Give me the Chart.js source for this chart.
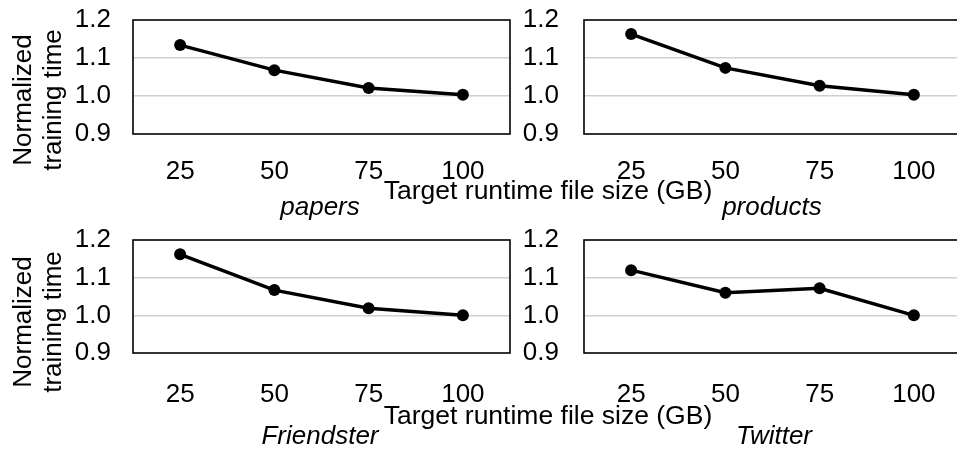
<!DOCTYPE html>
<html>
<head>
<meta charset="utf-8">
<script src="https://cdn.jsdelivr.net/npm/chart.js@4.4.1/dist/chart.umd.min.js"></script>
<style>
 body { margin: 0; width: 957px; height: 452px; overflow: hidden; background: #fff; position: relative;
  font-family: "Liberation Sans", Arial, sans-serif; color: #000; }
 canvas { position: absolute; }
 .txt { position: absolute; font-size: 26px; line-height: 30px; white-space: nowrap; text-align: center; }
 .sub { font-style: italic; }
 .ytitle { width: 200px; height: 60px; transform: rotate(-90deg); transform-origin: 50% 50%; }
</style>
</head>
<body>
<canvas id="c-papers" width="520" height="190" style="left:0;top:0"></canvas>
<canvas id="c-products" width="490" height="190" style="left:477px;top:0"></canvas>
<canvas id="c-friendster" width="520" height="190" style="left:0;top:222px"></canvas>
<canvas id="c-twitter" width="490" height="190" style="left:477px;top:222px"></canvas>

<div class="txt ytitle" style="left:-63px;top:70px">Normalized<br>training time</div>
<div class="txt ytitle" style="left:-63px;top:292px">Normalized<br>training time</div>
<div class="txt" style="left:298px;top:175px;width:500px;font-size:26.5px">Target runtime file size (GB)</div>
<div class="txt" style="left:298px;top:400px;width:500px;font-size:26.5px">Target runtime file size (GB)</div>
<div class="txt sub" style="left:220px;top:191px;width:200px">papers</div>
<div class="txt sub" style="left:672px;top:191px;width:200px">products</div>
<div class="txt sub" style="left:220px;top:420px;width:200px">Friendster</div>
<div class="txt sub" style="left:674px;top:420px;width:200px">Twitter</div>

<script>
// target runtime file size (GB)
const sizes = ["25", "50", "75", "100"];
// normalized training time per dataset
const papers = [1.134, 1.068, 1.021, 1.003];
const products = [1.163, 1.074, 1.027, 1.003];
const friendster = [1.162, 1.067, 1.019, 1.000];
const twitter = [1.120, 1.060, 1.072, 1.000];
// y axis ticks
const yTicks = [0.9, 1.0, 1.1, 1.2];
const yTickLabels = ["0.9", "1.0", "1.1", "1.2"];

const FONT = { family: '"Liberation Sans", Arial, sans-serif', size: 26, lineHeight: 1.2 };
Chart.defaults.color = "#000";

// black frame round the plot area
const framePlugin = {
 id: "frame",
 beforeDatasetsDraw(chart) {
  const { ctx, chartArea: a } = chart;
  ctx.save();
  ctx.strokeStyle = "#000";
  ctx.lineWidth = 1.6;
  ctx.strokeRect(a.left, a.top, a.right - a.left, a.bottom - a.top);
  ctx.restore();
 },
};

function makeChart(id, values, yWidth, yPad, padTop, padRight, xHeight, xPad) {
 return new Chart(document.getElementById(id), {
  type: "line",
  data: {
   labels: sizes,
   datasets: [
    {
     data: values,
     borderColor: "#000",
     backgroundColor: "#000",
     borderWidth: 3.5,
     pointRadius: 6,
     pointBackgroundColor: "#000",
     pointBorderWidth: 0,
     tension: 0,
     clip: false,
    },
   ],
  },
  options: {
   responsive: false,
   animation: false,
   devicePixelRatio: 1,
   layout: { padding: { top: padTop, right: padRight, left: 0, bottom: 0 } },
   plugins: { legend: { display: false }, tooltip: { enabled: false } },
   scales: {
    x: {
     offset: true,
     grid: { display: false },
     border: { display: false },
     ticks: { font: FONT, padding: xPad, maxRotation: 0, autoSkip: false },
     afterFit(s) {
      s.height = xHeight;
      s.paddingLeft = 0;
      s.paddingRight = 0;
     },
    },
    y: {
     min: yTicks[0],
     max: yTicks[yTicks.length - 1],
     border: { display: false },
     grid: {
      drawTicks: false,
      lineWidth: 1.5,
      color: (c) => (c.index === 1 || c.index === 2 ? "#d0d0d0" : "rgba(0,0,0,0)"),
     },
     ticks: {
      font: FONT,
      padding: yPad,
      autoSkip: false,
      callback: (v, i) => yTickLabels[i],
     },
     afterBuildTicks(s) {
      s.ticks = yTicks.map((v) => ({ value: v }));
     },
     afterFit(s) {
      s.width = yWidth;
      s.paddingTop = 0;
      s.paddingBottom = 0;
     },
    },
   },
  },
  plugins: [framePlugin],
 });
}

makeChart("c-papers", papers, 133, 22, 20, 10, 56, 14);
makeChart("c-products", products, 107, 25, 20, 6, 56, 14);
makeChart("c-friendster", friendster, 133, 22, 18, 10, 59, 18);
makeChart("c-twitter", twitter, 107, 25, 18, 6, 59, 18);
</script>
</body>
</html>
